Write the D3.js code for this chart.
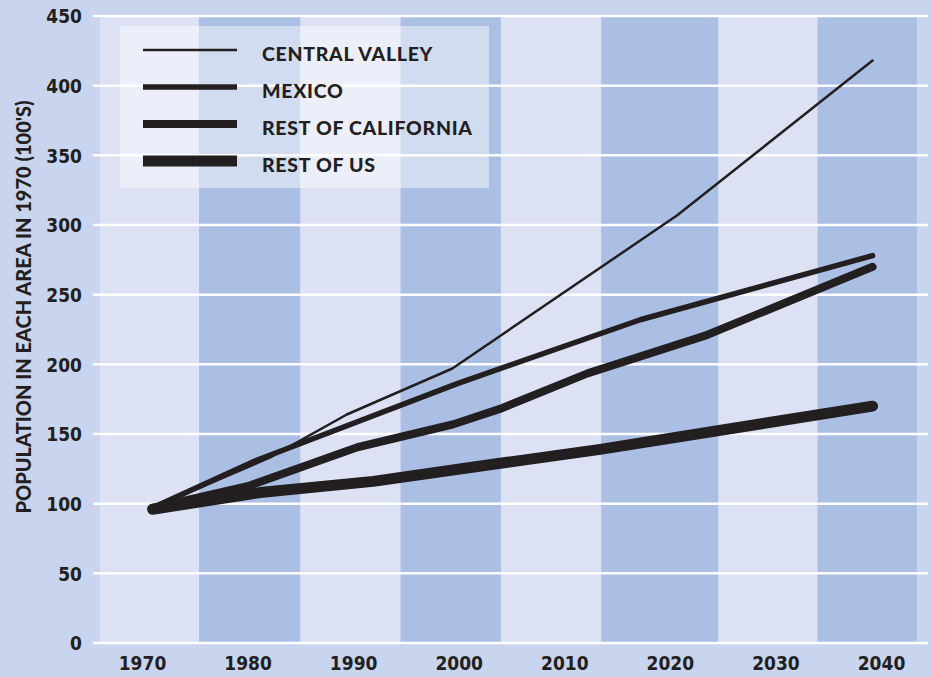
<!doctype html>
<html lang="en">
<head>
    <meta charset="UTF-8">
    <title>Population growth since 1970</title>
    <script type="text/javascript" src="https://cdn.jsdelivr.net/npm/d3@7/dist/d3.min.js"></script>
    <style type="text/css">
        body { margin: 0; background-color: #c9d5ee; }
        svg { display: block; }
        .tick-label { font-family: "Liberation Sans Narrow", "DejaVu Sans Condensed", sans-serif; font-weight: bold; font-size: 19px; fill: #231f20; }
        .legend-label, .y-title { font-family: Lato, "Open Sans", sans-serif; font-weight: 900; fill: #231f20; }
    </style>
</head>
<body>
<script type="text/javascript">
    var width = 932;
    var height = 677;

    // tick labels
    var year_ticks = [1970, 1980, 1990, 2000, 2010, 2020, 2030, 2040];
    var value_ticks = [0, 50, 100, 150, 200, 250, 300, 350, 400, 450];

    // background column edges (years)
    var band_edges = [1966, 1975.4, 1985, 1994.5, 2004, 2013.5, 2024.6, 2034, 2043.4];

    var series_names = ["CENTRAL VALLEY", "MEXICO", "REST OF CALIFORNIA", "REST OF US"];

    var central_valley_years = [1971, 1982.1, 1989.4, 1999.4, 2020.7, 2039.2];
    var central_valley_values = [97, 133, 164, 197, 307, 418];

    var mexico_years = [1971, 1980.8, 1999.8, 2017.2, 2039.2];
    var mexico_values = [97, 131, 186, 232, 278];

    var rest_ca_years = [1971, 1980.2, 1990.4, 1999.5, 2003.9, 2012.2, 2023.5, 2039.2];
    var rest_ca_values = [97, 113, 140.5, 157, 168, 193.5, 221, 270];

    var rest_us_years = [1971, 1981.2, 1991.9, 2001.1, 2013.4, 2039.2];
    var rest_us_values = [96, 108, 116, 126, 139, 170];

    var stroke_widths = [2.5, 5.5, 8, 11];

    function zip(xs, ys) {
        return xs.map(function (x, i) { return [x, ys[i]]; });
    }
    var lines_data = [
        zip(central_valley_years, central_valley_values),
        zip(mexico_years, mexico_values),
        zip(rest_ca_years, rest_ca_values),
        zip(rest_us_years, rest_us_values)
    ];

    var x_scale = d3.scaleLinear().domain([1970, 2040]).range([142, 881]);
    var y_scale = d3.scaleLinear().domain([0, 450]).range([643, 16]);

    var svg = d3.select("body").append("svg").attr("width", width).attr("height", height);

    // alternating columns
    var bands = d3.pairs(band_edges);
    svg.append("g").selectAll("rect")
        .data(bands)
        .enter()
        .append("rect")
        .attr("x", function (d) { return x_scale(d[0]); })
        .attr("width", function (d) { return x_scale(d[1]) - x_scale(d[0]); })
        .attr("y", y_scale(450))
        .attr("height", y_scale(0) - y_scale(450))
        .attr("fill", function (d, i) { return i % 2 === 0 ? "#dce2f4" : "#abbfe5"; });

    // legend box (under the grid)
    svg.append("rect")
        .attr("x", 120).attr("y", 26)
        .attr("width", 369).attr("height", 162)
        .attr("fill", "#ffffff").attr("fill-opacity", 0.45);

    // horizontal grid
    svg.append("g").selectAll("line")
        .data(value_ticks)
        .enter()
        .append("line")
        .attr("x1", 93).attr("x2", 928)
        .attr("y1", function (d) { return y_scale(d); })
        .attr("y2", function (d) { return y_scale(d); })
        .attr("stroke", "#ffffff")
        .attr("stroke-width", 2.5);

    // axes
    var y_axis = d3.axisLeft(y_scale).tickValues(value_ticks).tickSize(0).tickPadding(11);
    var gy = svg.append("g").attr("transform", "translate(93,0)").call(y_axis);
    var x_axis = d3.axisBottom(x_scale).tickValues(year_ticks).tickFormat(d3.format("d")).tickSize(0).tickPadding(14);
    var gx = svg.append("g").attr("transform", "translate(0,643)").call(x_axis);
    [gy, gx].forEach(function (g) {
        g.select(".domain").remove();
        g.selectAll("text").attr("class", "tick-label").attr("fill", null).attr("font-family", null).attr("font-size", null);
    });
    gy.selectAll("text").attr("dy", "0.36em");

    // lines
    var line = d3.line()
        .x(function (d) { return x_scale(d[0]); })
        .y(function (d) { return y_scale(d[1]); });

    svg.append("g").selectAll("path")
        .data(lines_data)
        .enter()
        .append("path")
        .attr("d", line)
        .attr("fill", "none")
        .attr("stroke", "#231f20")
        .attr("stroke-width", function (d, i) { return stroke_widths[i]; })
        .attr("stroke-linejoin", "round")
        .attr("stroke-linecap", "round");

    // legend entries
    var entry = svg.append("g").selectAll("g.entry")
        .data(series_names)
        .enter()
        .append("g")
        .attr("transform", function (d, i) { return "translate(0," + (50 + i * 37) + ")"; });
    entry.append("line")
        .attr("x1", 143).attr("x2", 237)
        .attr("stroke", "#231f20")
        .attr("stroke-width", function (d, i) { return stroke_widths[i]; });
    entry.append("text")
        .attr("class", "legend-label")
        .attr("x", 262).attr("y", 11)
        .attr("font-size", "19.5px")
        .attr("letter-spacing", "0.7px")
        .text(function (d) { return d; });

    // y title
    svg.append("text")
        .attr("class", "y-title")
        .attr("transform", "translate(31,307) rotate(-90)")
        .attr("text-anchor", "middle")
        .attr("font-size", "20px")
        .text("POPULATION IN EACH AREA IN 1970 (100'S)");
</script>
</body>
</html>
